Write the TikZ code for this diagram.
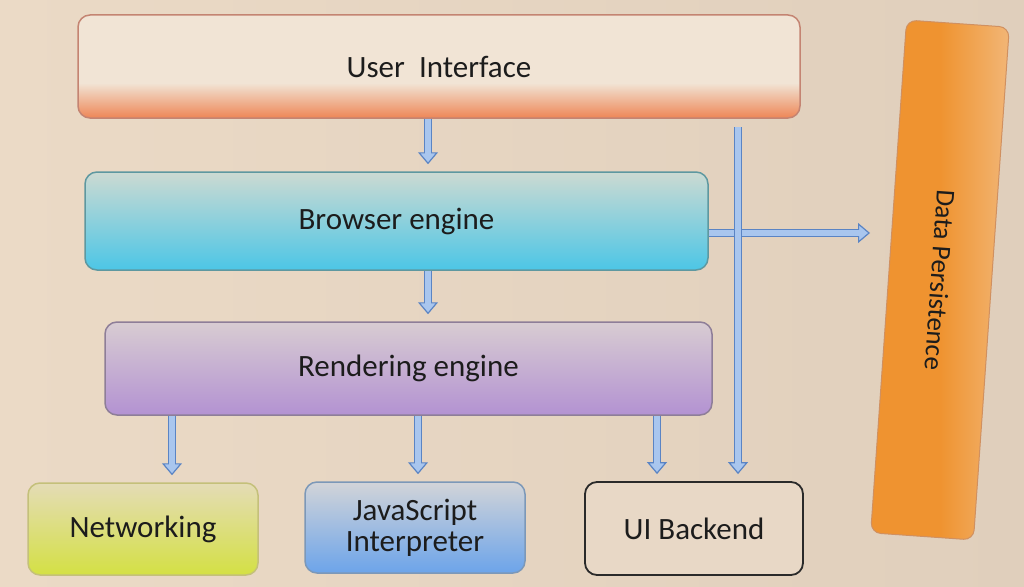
\documentclass[tikz,border=0pt]{standalone}
\usepackage{fontspec}
\setmainfont{Carlito}
\usetikzlibrary{arrows.meta}
\definecolor{bgA}{HTML}{EBDAC6}
\definecolor{bgB}{HTML}{E0CFBC}
\definecolor{txt}{HTML}{1C1C1C}
\definecolor{uiT}{HTML}{F1E4D5}
\definecolor{uiB}{HTML}{EE8656}
\definecolor{uiD}{HTML}{C48472}
\definecolor{beT}{HTML}{CCDAD2}
\definecolor{beB}{HTML}{4CC6E6}
\definecolor{beD}{HTML}{5E98A0}
\definecolor{reT}{HTML}{D8CCD2}
\definecolor{reB}{HTML}{B392D2}
\definecolor{reD}{HTML}{8E7E98}
\definecolor{nwT}{HTML}{E4DCB6}
\definecolor{nwB}{HTML}{D4E044}
\definecolor{nwD}{HTML}{C4C07A}
\definecolor{jsT}{HTML}{D2D4D8}
\definecolor{jsB}{HTML}{6CA4EA}
\definecolor{jsD}{HTML}{7C98B8}
\definecolor{ubF}{HTML}{E8D8C6}
\definecolor{ubD}{HTML}{2A2A2A}
\definecolor{dpL}{HTML}{EF9330}
\definecolor{dpR}{HTML}{F2B676}
\definecolor{dpD}{HTML}{D09060}
\definecolor{arrF}{HTML}{A9C6EE}
\definecolor{arrB}{HTML}{5A84C4}
\pgfdeclareverticalshading{uishade}{100bp}{color(0bp)=(uiB); color(25bp)=(uiB); color(42bp)=(uiT); color(75bp)=(uiT); color(100bp)=(uiT)}
\tikzset{
  box/.style={rounded corners=12pt, inner sep=0pt, line width=1.5pt, text=txt,
    font=\fontsize{31}{31}\selectfont, align=center},
  barA/.style={draw=arrB, line width=8.5pt, shorten >=7pt,
    -{Triangle[length=12pt,width=20pt,fill=arrF,line width=1.2pt]}},
  barB/.style={draw=arrF, line width=5.9pt, shorten >=17pt},
}
\newcommand\barrow[2]{\draw[barA] #1 -- #2; \draw[barB] #1 -- #2;}
\begin{document}
\begin{tikzpicture}[x=1pt,y=-1pt]
\useasboundingbox (0,0) rectangle (1024,586);
\shade[left color=bgA, right color=bgB] (0,0) rectangle (1024,586);

\node[box, draw=uiD, shading=uishade, shade, minimum width=722pt, minimum height=103pt]
  (ui) at (439,66.5) {User\ \ Interface};
\node[box, draw=beD, top color=beT, bottom color=beB, minimum width=623pt, minimum height=98pt]
  (be) at (396.5,221) {Browser engine};
\node[box, draw=reD, top color=reT, bottom color=reB, minimum width=607pt, minimum height=93pt]
  (re) at (408.5,368.5) {Rendering engine};
\node[box, draw=nwD, top color=nwT, bottom color=nwB, minimum width=230pt, minimum height=92pt]
  (nw) at (143,529) {Networking};
\node[box, draw=jsD, top color=jsT, bottom color=jsB, minimum width=220pt, minimum height=91pt]
  (js) at (415,527.5) {JavaScript\\Interpreter};
\node[box, draw=ubD, fill=ubF, line width=1.8pt, minimum width=218pt, minimum height=93pt]
  (ub) at (694,528.5) {UI Backend};
\node[box, draw=dpD, line width=1pt, rounded corners=10pt, left color=dpL, right color=dpR, middle color=dpL,
  minimum width=514pt, minimum height=103pt, rotate=-94, font=\fontsize{27}{28}\selectfont]
  (dp) at (940,280) {Data Persistence};

\coordinate (c428) at (428,0);
\coordinate (c172) at (172,0);
\coordinate (c418) at (418,0);
\coordinate (c657) at (657,0);
\coordinate (vtop) at (738,127);
\coordinate (dpin) at (877,233);

\barrow{(ui.south -| c428)}{(be.north -| c428)}
\barrow{(be.south -| c428)}{(re.north -| c428)}
\barrow{(re.south -| c172)}{(nw.north -| c172)}
\barrow{(re.south -| c418)}{(js.north -| c418)}
\barrow{(re.south -| c657)}{(ub.north -| c657)}
\barrow{(be.east |- dpin)}{(dpin)}
\barrow{(vtop)}{(ub.north -| vtop)}
\end{tikzpicture}
\end{document}
